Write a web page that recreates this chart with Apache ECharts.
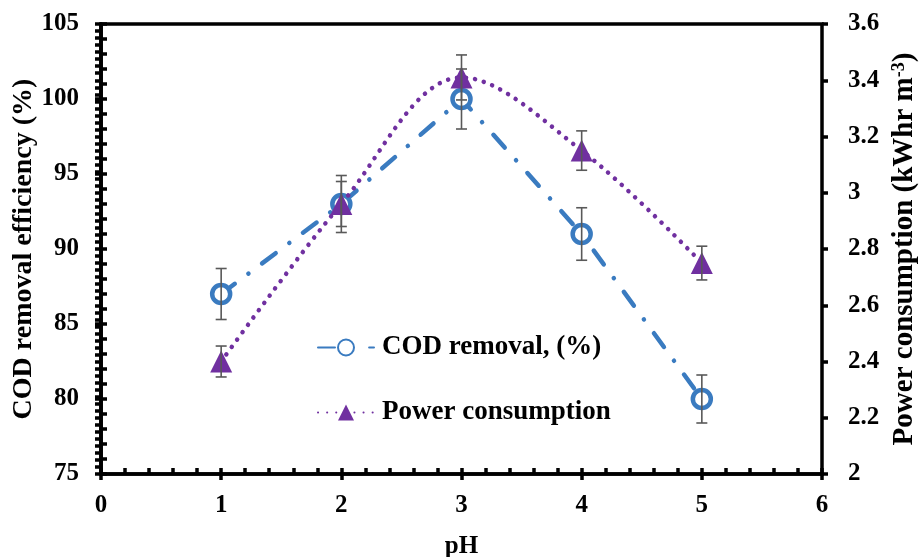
<!DOCTYPE html>
<html>
<head>
<meta charset="utf-8">
<script src="https://cdn.jsdelivr.net/npm/echarts@6/dist/echarts.min.js"></script>
<style>
  html, body { margin: 0; padding: 0; background: #fff; }
  #main { width: 920px; height: 557px; }
</style>
</head>
<body>
<div id="main"></div>
<script>
var chart = echarts.init(document.getElementById('main'));

var phValues = [1, 2, 3, 4, 5];
var codRemoval = [87, 93, 100, 91, 80];
var codError = [1.7, 1.9, 2.0, 1.75, 1.6];
var powerUse = [2.40, 2.96, 3.41, 3.15, 2.75];
var powerError = [0.055, 0.08, 0.08, 0.07, 0.06];

var font = 'Liberation Serif';
var blue = '#3A7BC0';
var purple = '#7030A0';

function pairs(xs, ys) {
    return xs.map(function (x, i) { return [x, ys[i]]; });
}
function errRows(xs, ys, es) {
    return xs.map(function (x, i) { return [x, ys[i] - es[i], ys[i] + es[i]]; });
}

function renderErr(params, api) {
    var x = api.value(0);
    var lo = api.coord([x, api.value(1)]);
    var hi = api.coord([x, api.value(2)]);
    var w = 5.5;
    var st = { stroke: '#595959', lineWidth: 1.6 };
    return {
        type: 'group',
        children: [
            { type: 'line', shape: { x1: lo[0], y1: lo[1], x2: hi[0], y2: hi[1] }, style: st },
            { type: 'line', shape: { x1: lo[0] - w, y1: lo[1], x2: lo[0] + w, y2: lo[1] }, style: st },
            { type: 'line', shape: { x1: hi[0] - w, y1: hi[1], x2: hi[0] + w, y2: hi[1] }, style: st }
        ]
    };
}

var labelStyle = { color: '#000', fontFamily: font, fontWeight: 'bold', fontSize: 25 };
var nameStyle = { color: '#000', fontFamily: font, fontWeight: 'bold', fontSize: 28 };
var axisLine = { show: true, lineStyle: { color: '#000', width: 3.5 } };
var tickLine = { color: '#000', width: 3.5 };

var option = {
    animation: false,
    grid: {
        left: 101, right: 98, top: 24, bottom: 83,
        outerBoundsMode: 'none',
        containLabel: false,
        show: true, borderColor: '#000', borderWidth: 3.5
    },
    legend: {
        orient: 'vertical',
        left: 312,
        top: 329,
        itemGap: 38,
        itemWidth: 56,
        itemHeight: 20,
        textStyle: { color: '#000', fontFamily: font, fontWeight: 'bold', fontSize: 27, padding: [0, 0, 0, 3] },
        data: ['COD removal, (%)', 'Power consumption']
    },
    xAxis: [{
        type: 'value',
        min: 0, max: 6, interval: 1,
        name: 'pH',
        nameLocation: 'middle',
        nameGap: 60,
        nameTextStyle: Object.assign({}, nameStyle, { fontSize: 25 }),
        axisLine: axisLine,
        axisTick: { show: true, inside: true, length: 6, lineStyle: tickLine },
        minorTick: { show: true, splitNumber: 5, length: 6, lineStyle: tickLine },
        axisLabel: Object.assign({ margin: 19 }, labelStyle),
        splitLine: { show: false }
    }, {
        type: 'value',
        position: 'bottom',
        min: 0, max: 6, interval: 1,
        axisLine: { show: false },
        axisTick: { show: true, length: 6, lineStyle: tickLine },
        axisLabel: { show: false },
        splitLine: { show: false }
    }],
    yAxis: [{
        type: 'value',
        min: 75, max: 105, interval: 5,
        position: 'left',
        name: 'COD removal efficiency (%)',
        nameLocation: 'middle',
        nameGap: 63,
        nameMoveOverlap: false,
        nameTextStyle: nameStyle,
        axisLine: axisLine,
        axisTick: { show: true, inside: true, length: 6, lineStyle: tickLine },
        minorTick: { show: true, splitNumber: 5, length: 6, lineStyle: tickLine },
        axisLabel: Object.assign({ margin: 22 }, labelStyle),
        splitLine: { show: false }
    }, {
        type: 'value',
        min: 2, max: 3.6, interval: 0.2,
        position: 'right',
        name: 'Power consumption (kWhr m{sup|-3})',
        nameLocation: 'middle',
        nameGap: 68,
        nameRotate: 90,
        nameTextStyle: Object.assign({
            rich: {
                sup: { fontFamily: font, fontWeight: 'bold', fontSize: 18, color: '#000', verticalAlign: 'top', padding: [0, 0, 10, 0] }
            }
        }, nameStyle, { fontSize: 29 }),
        axisLine: axisLine,
        axisTick: { show: true, inside: true, length: 6, lineStyle: tickLine },
        minorTick: { show: true, splitNumber: 8, length: 6, lineStyle: tickLine },
        axisLabel: Object.assign({
            margin: 26,
            formatter: function (v) { return String(Math.round(v * 10) / 10); }
        }, labelStyle),
        splitLine: { show: false }
    }, {
        type: 'value',
        min: 75, max: 105, interval: 5,
        position: 'left',
        axisLine: { show: false },
        axisTick: { show: true, length: 6, lineStyle: tickLine },
        axisLabel: { show: false },
        splitLine: { show: false }
    }, {
        type: 'value',
        min: 2, max: 3.6, interval: 0.2,
        position: 'right',
        axisLine: { show: false },
        axisTick: { show: true, length: 6, lineStyle: tickLine },
        axisLabel: { show: false },
        splitLine: { show: false }
    }],
    series: [{
        name: 'COD removal, (%)',
        type: 'line',
        yAxisIndex: 0,
        data: pairs(phValues, codRemoval),
        symbol: 'circle',
        symbolSize: 18,
        lineStyle: { color: blue, width: 4.5, type: [17, 17, 0.1, 17], cap: 'round' },
        itemStyle: { color: '#fff', borderColor: blue, borderWidth: 4.5 },
        z: 3
    }, {
        name: 'Power consumption',
        type: 'line',
        yAxisIndex: 1,
        smooth: 0.35,
        data: pairs(phValues, powerUse),
        symbol: 'triangle',
        symbolSize: 22,
        lineStyle: { color: purple, width: 4.5, type: [0.1, 9], cap: 'round' },
        itemStyle: { color: purple, borderWidth: 0 },
        z: 4
    }, {
        type: 'custom',
        yAxisIndex: 0,
        renderItem: renderErr,
        data: errRows(phValues, codRemoval, codError),
        z: 5
    }, {
        type: 'custom',
        yAxisIndex: 1,
        renderItem: renderErr,
        data: errRows(phValues, powerUse, powerError),
        z: 5
    }]
};

chart.setOption(option);
</script>
</body>
</html>
